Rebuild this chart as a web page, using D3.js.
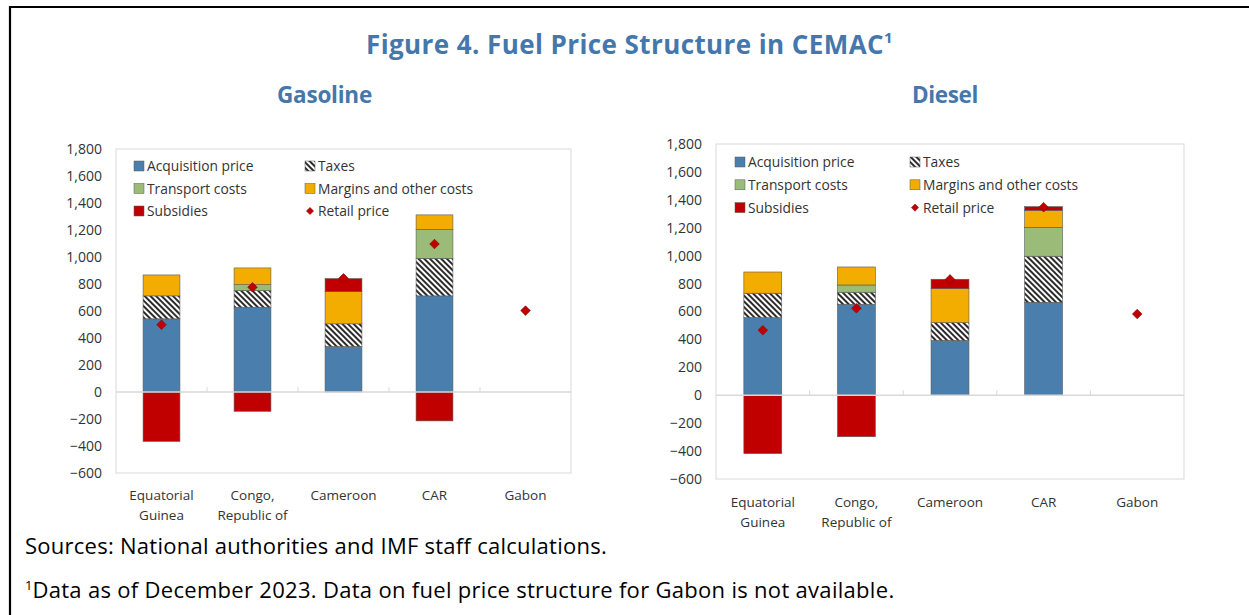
<!DOCTYPE html>
<html>
<head>
<meta charset="utf-8">
<script src="https://cdn.jsdelivr.net/npm/d3@7"></script>
<style>
  html, body { margin: 0; padding: 0; background: #fff; }
  svg { display: block; }
  text { font-family: "Open Sans", "Noto Sans", sans-serif; }
</style>
</head>
<body>
<svg id="chart" width="1249" height="615"></svg>
<script>
// ---------- DATA ----------
const categories = ["Equatorial Guinea", "Congo, Republic of", "Cameroon", "CAR", "Gabon"];
const categoryLabels = [["Equatorial", "Guinea"], ["Congo,", "Republic of"], ["Cameroon"], ["CAR"], ["Gabon"]];
const seriesNames = ["Acquisition price", "Taxes", "Transport costs", "Margins and other costs", "Subsidies"];
const yTicks = [-600, -400, -200, 0, 200, 400, 600, 800, 1000, 1200, 1400, 1600, 1800];

// Gasoline
const gasAcquisition = [542, 628, 337, 712, null];
const gasTaxes       = [170, 123, 168, 278, null];
const gasTransport   = [0, 44, 0, 214, null];
const gasMargins     = [155, 124, 239, 108, null];
const gasSubsidies   = [-366, -143, 96, -214, null];
const gasRetail      = [498, 776, 842, 1096, 603];

// Diesel
const dieAcquisition = [556, 652, 393, 666, null];
const dieTaxes       = [175, 86, 127, 330, null];
const dieTransport   = [0, 52, 0, 207, null];
const dieMargins     = [152, 129, 244, 122, null];
const dieSubsidies   = [-418, -297, 67, 26, null];
const dieRetail      = [466, 623, 830, 1347, 582];

// ---------- STYLE ----------
const colors = {
  "Acquisition price": "#4A7FAD",
  "Taxes": "url(#hatch)",
  "Transport costs": "#9BBB79",
  "Margins and other costs": "#F3AC00",
  "Subsidies": "#C00000"
};
const titleColor = "#4577AC";
const textColor = "#333333";

const svg = d3.select("#chart");

// stretch a text's letter spacing so that it spans a target width
function fitWidth(sel, target) {
  const n = sel.text().length;
  const w = sel.node().getComputedTextLength();
  sel.attr("letter-spacing", ((target - w) / n).toFixed(3));
}

// hatch pattern
const defs = svg.append("defs");
const pat = defs.append("pattern")
  .attr("id", "hatch").attr("patternUnits", "userSpaceOnUse")
  .attr("width", 4).attr("height", 4)
  .attr("patternTransform", "rotate(-45)");
pat.append("rect").attr("width", 4).attr("height", 4).attr("fill", "#ffffff");
pat.append("rect").attr("width", 2).attr("height", 4).attr("fill", "#2b2b2b");

// frame
svg.append("path")
  .attr("d", "M10,615 L10,7 L1249,7")
  .attr("fill", "none").attr("stroke", "#000").attr("stroke-width", 2.2);

// titles
const t = svg.append("text")
  .attr("x", 366).attr("y", 54)
  .attr("fill", titleColor).attr("font-weight", "bold").attr("font-size", 26);
const tMain = t.append("tspan").text("Figure 4. Fuel Price Structure in CEMAC");
t.append("tspan").text("1").attr("font-size", 15).attr("dy", -11).attr("letter-spacing", 0);
fitWidth(tMain, 518);

const gt = svg.append("text").attr("x", 277).attr("y", 103)
  .attr("fill", titleColor).attr("font-weight", "bold").attr("font-size", 22.5).text("Gasoline");
fitWidth(gt, 95);
const dt = svg.append("text").attr("x", 912).attr("y", 103)
  .attr("fill", titleColor).attr("font-weight", "bold").attr("font-size", 22.5).text("Diesel");
fitWidth(dt, 66);

// footer
const src = svg.append("text").attr("x", 25).attr("y", 554).attr("fill", "#000").attr("font-size", 22)
  .text("Sources: National authorities and IMF staff calculations.");
fitWidth(src, 582);
const fn = svg.append("text").attr("x", 25).attr("y", 598).attr("fill", "#000").attr("font-size", 22);
fn.append("tspan").text("1").attr("font-size", 13).attr("dy", -8);
const fnMain = fn.append("tspan").text("Data as of December 2023. Data on fuel price structure for Gabon is not available.").attr("dy", 8);
fitWidth(fnMain, 862);

function drawPanel(cfg) {
  const g = svg.append("g");
  const x = d3.scaleBand().domain(categories).range([cfg.left, cfg.right]).padding(0);
  const y = d3.scaleLinear().domain([-600, 1800]).range([cfg.bottom, cfg.top]);
  const barW = x.bandwidth() * 0.405;

  // plot border
  g.append("rect").attr("x", cfg.left).attr("y", cfg.top)
    .attr("width", cfg.right - cfg.left).attr("height", cfg.bottom - cfg.top)
    .attr("fill", "none").attr("stroke", "#d9d9d9").attr("stroke-width", 1);

  // y axis labels
  const yAxis = d3.axisLeft(y).tickValues(yTicks).tickFormat(d3.format(",")).tickSize(0).tickPadding(14);
  const ya = g.append("g").attr("transform", `translate(${cfg.left},0)`).call(yAxis);
  ya.select(".domain").remove();
  ya.selectAll("text").attr("font-size", 14).attr("fill", textColor)
    .attr("font-family", "'Open Sans', 'Noto Sans', sans-serif");

  // stacked bars
  const rows = categories.map((c, i) => ({
    cat: c,
    "Acquisition price": cfg.acq[i] || 0,
    "Taxes": cfg.tax[i] || 0,
    "Transport costs": cfg.tra[i] || 0,
    "Margins and other costs": cfg.mar[i] || 0,
    "Subsidies": cfg.sub[i] || 0
  }));
  const stack = d3.stack().keys(seriesNames).offset(d3.stackOffsetDiverging);
  const layers = stack(rows);
  layers.forEach(layer => {
    g.append("g").selectAll("rect")
      .data(layer.filter(d => d[1] - d[0] !== 0))
      .join("rect")
      .attr("x", d => x(d.data.cat) + (x.bandwidth() - barW) / 2)
      .attr("y", d => y(d[1]))
      .attr("width", barW)
      .attr("height", d => y(d[0]) - y(d[1]))
      .attr("fill", colors[layer.key])
      .attr("stroke", "#5a5a5a").attr("stroke-width", 0.6);
  });

  // zero line and category ticks
  g.append("line").attr("x1", cfg.left).attr("x2", cfg.right)
    .attr("y1", y(0)).attr("y2", y(0)).attr("stroke", "#d9d9d9").attr("stroke-width", 1.5);
  categories.slice(1).forEach(c => {
    g.append("line").attr("x1", x(c)).attr("x2", x(c))
      .attr("y1", y(0)).attr("y2", y(0) - 5).attr("stroke", "#d9d9d9").attr("stroke-width", 1);
  });

  // retail price diamonds
  const sym = d3.symbol().type(d3.symbolSquare).size(46);
  g.append("g").selectAll("path")
    .data(categories.map((c, i) => ({ cat: c, v: cfg.ret[i] })).filter(d => d.v != null))
    .join("path")
    .attr("d", sym)
    .attr("transform", d => `translate(${x(d.cat) + x.bandwidth() / 2},${y(d.v)}) rotate(45)`)
    .attr("fill", "#C00000").attr("stroke", "#8a0000").attr("stroke-width", 0.6);

  // x labels
  categories.forEach((c, i) => {
    const txt = g.append("text").attr("x", x(c) + x.bandwidth() / 2).attr("y", cfg.bottom + cfg.xlab)
      .attr("text-anchor", "middle").attr("font-size", 13.5).attr("fill", textColor);
    categoryLabels[i].forEach((line, j) => {
      txt.append("tspan").attr("x", x(c) + x.bandwidth() / 2).attr("dy", j === 0 ? 0 : 19.5).text(line);
    });
  });

  // legend
  const lg = g.append("g");
  const legendItems = [
    { name: "Acquisition price", col: 0, row: 0, kind: "rect" },
    { name: "Taxes", col: 1, row: 0, kind: "rect" },
    { name: "Transport costs", col: 0, row: 1, kind: "rect" },
    { name: "Margins and other costs", col: 1, row: 1, kind: "rect" },
    { name: "Subsidies", col: 0, row: 2, kind: "rect" },
    { name: "Retail price", col: 1, row: 2, kind: "diamond" }
  ];
  legendItems.forEach(it => {
    const lx = cfg.legX[it.col], ly = cfg.legY + it.row * cfg.legDy;
    if (it.kind === "rect") {
      lg.append("rect").attr("x", lx).attr("y", ly - 5).attr("width", 10).attr("height", 10)
        .attr("fill", colors[it.name]).attr("stroke", "#5a5a5a").attr("stroke-width", 0.5);
    } else {
      lg.append("path").attr("d", d3.symbol().type(d3.symbolSquare).size(26))
        .attr("transform", `translate(${lx + 5},${ly}) rotate(45)`)
        .attr("fill", "#C00000").attr("stroke", "#8a0000").attr("stroke-width", 0.5);
    }
    lg.append("text").attr("x", lx + 13).attr("y", ly + 5).attr("font-size", 13.8)
      .attr("fill", textColor).text(it.name);
  });
}

drawPanel({
  left: 116, right: 571, top: 149, bottom: 473, xlab: 27,
  acq: gasAcquisition, tax: gasTaxes, tra: gasTransport, mar: gasMargins, sub: gasSubsidies, ret: gasRetail,
  legX: [134, 305], legY: 166, legDy: 22.5
});
drawPanel({
  left: 716, right: 1184, top: 144, bottom: 479, xlab: 28,
  acq: dieAcquisition, tax: dieTaxes, tra: dieTransport, mar: dieMargins, sub: dieSubsidies, ret: dieRetail,
  legX: [735, 910], legY: 162, legDy: 22.8
});
</script>
</body>
</html>
